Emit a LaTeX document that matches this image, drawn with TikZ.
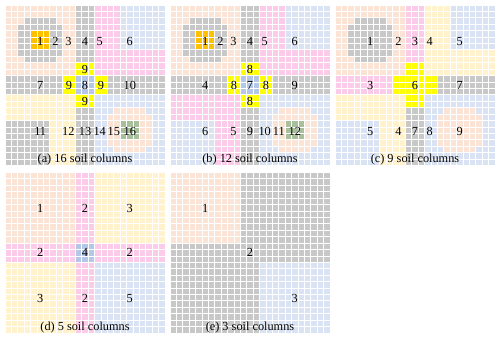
\documentclass[tikz,border=0pt]{standalone}
\usepackage{fontspec}
\setmainfont{Liberation Serif}

\definecolor{pesca}{HTML}{FBE4D5}
\definecolor{grigio}{HTML}{C8C8C8}
\definecolor{arancio}{HTML}{FFC000}
\definecolor{rosa}{HTML}{FCCBE9}
\definecolor{azzurro}{HTML}{DAE3F3}
\definecolor{blu}{HTML}{B4C7E7}
\definecolor{giallo}{HTML}{FFFF00}
\definecolor{crema}{HTML}{FFF2CC}
\definecolor{verde}{HTML}{A8BF9C}

% ottagono 7x7 celle con gli spigoli tagliati (colore, angolo in basso a sinistra)
\newcommand{\ottagono}[3]{%
  \fill[#1, shift={(#2,#3)}] (1,0) -- (6,0) -- (6,1) -- (7,1) -- (7,6) -- (6,6)
    -- (6,7) -- (1,7) -- (1,6) -- (0,6) -- (0,1) -- (1,1) -- cycle;}

\begin{document}
\begin{tikzpicture}[x=6.4pt, y=6.42pt, font=\fontsize{12.3}{14}\selectfont]

    % Stile globale per la griglia delle celle
    \tikzset{griglia/.style={white, line width=0.9pt, step=1}}

    \useasboundingbox (0pt,0pt) rectangle (500pt,340pt);

    % (a) 16 colonne di suolo
    \begin{scope}[shift={(5pt,174.5pt)}]
        \fill[pesca] (0,14) rectangle (11,25);
        \ottagono{grigio}{2}{16}
        \fill[arancio] (4,18) rectangle (7,21);
        \fill[grigio] (11,0) rectangle (14,25);
        \fill[rosa] (14,14) rectangle (18,25);
        \fill[rosa] (18,14) rectangle (25,18);
        \fill[azzurro] (18,18) rectangle (25,25);
        \fill[grigio] (0,11) rectangle (25,14);
        \fill[crema] (0,0) rectangle (11,11);
        \fill[grigio] (0,0) rectangle (7,7);
        \fill[azzurro] (14,0) rectangle (25,11);
        \ottagono{pesca}{16}{2}
        \fill[verde] (18,4) rectangle (21,7);
        \fill[blu] (11,11) rectangle (14,14);
        \fill[giallo] (11,14) rectangle (14,16);
        \fill[giallo] (11,9) rectangle (14,11);
        \fill[giallo] (9,11) rectangle (11,14);
        \fill[giallo] (14,11) rectangle (16,14);
        \draw[griglia] (0,0) grid (25,25);

        % Numeri delle colonne
        \node (a1) at (5.5,19.3) {1};
        \node (a2) at (7.9,19.3) {2};
        \node (a3) at (9.9,19.3) {3};
        \node (a4) at (12.5,19.3) {4};
        \node (a5) at (14.8,19.3) {5};
        \node (a6) at (19.5,19.3) {6};
        \node (a7) at (5.5,12.4) {7};
        \node (a9o) at (10,12.4) {9};
        \node (a8) at (12.5,12.4) {8};
        \node (a9e) at (15,12.4) {9};
        \node (a10) at (19.5,12.4) {10};
        \node (a9n) at (12.5,15) {9};
        \node (a9s) at (12.5,9.9) {9};
        \node (a11) at (5.5,5.3) {11};
        \node (a12) at (9.9,5.3) {12};
        \node (a13) at (12.5,5.3) {13};
        \node (a14) at (14.8,5.3) {14};
        \node (a15) at (17,5.3) {15};
        \node (a16) at (19.5,5.3) {16};
        \node (capa) at (12.5,0.9) {(a) 16 soil columns};
    \end{scope}

    % (b) 12 colonne di suolo
    \begin{scope}[shift={(170pt,174.5pt)}]
        \fill[pesca] (0,14) rectangle (11,25);
        \ottagono{grigio}{2}{16}
        \fill[arancio] (4,18) rectangle (7,21);
        \fill[grigio] (11,0) rectangle (14,25);
        \fill[rosa] (14,14) rectangle (18,25);
        \fill[rosa] (18,14) rectangle (25,18);
        \fill[azzurro] (18,18) rectangle (25,25);
        \fill[grigio] (0,11) rectangle (25,14);
        \fill[rosa] (0,0) rectangle (11,11);
        \fill[azzurro] (0,0) rectangle (7,7);
        \fill[azzurro] (14,0) rectangle (25,11);
        \ottagono{pesca}{16}{2}
        \fill[verde] (18,4) rectangle (21,7);
        \fill[blu] (11,11) rectangle (14,14);
        \fill[giallo] (11,14) rectangle (14,16);
        \fill[giallo] (11,9) rectangle (14,11);
        \fill[giallo] (9,11) rectangle (11,14);
        \fill[giallo] (14,11) rectangle (16,14);
        \draw[griglia] (0,0) grid (25,25);

        % Numeri delle colonne
        \node (b1) at (5.5,19.3) {1};
        \node (b2) at (7.9,19.3) {2};
        \node (b3) at (9.9,19.3) {3};
        \node (b4) at (12.5,19.3) {4};
        \node (b5) at (14.8,19.3) {5};
        \node (b6) at (19.5,19.3) {6};
        \node (b4o) at (5.5,12.4) {4};
        \node (b8o) at (10,12.4) {8};
        \node (b7) at (12.5,12.4) {7};
        \node (b8e) at (15,12.4) {8};
        \node (b9e) at (19.5,12.4) {9};
        \node (b8n) at (12.5,15) {8};
        \node (b8s) at (12.5,9.9) {8};
        \node (b6s) at (5.5,5.3) {6};
        \node (b5s) at (9.9,5.3) {5};
        \node (b9s) at (12.5,5.3) {9};
        \node (b10) at (14.8,5.3) {10};
        \node (b11) at (17,5.3) {11};
        \node (b12) at (19.5,5.3) {12};
        \node (capb) at (12.5,0.9) {(b) 12 soil columns};
    \end{scope}

    % (c) 9 colonne di suolo
    \begin{scope}[shift={(335pt,174.5pt)}]
        \fill[pesca] (0,14) rectangle (11,25);
        \ottagono{grigio}{2}{16}
        \fill[rosa] (11,14) rectangle (14,25);
        \fill[crema] (14,14) rectangle (18,25);
        \fill[crema] (18,14) rectangle (25,18);
        \fill[azzurro] (18,18) rectangle (25,25);
        \fill[rosa] (0,11) rectangle (11,14);
        \fill[grigio] (14,11) rectangle (25,14);
        \fill[crema] (0,0) rectangle (11,11);
        \fill[azzurro] (0,0) rectangle (7,7);
        \fill[grigio] (11,0) rectangle (14,11);
        \fill[azzurro] (14,0) rectangle (25,11);
        \ottagono{pesca}{16}{2}
        \fill[giallo] (11,9) rectangle (14,16);
        \fill[giallo] (9,11) rectangle (16,14);
        \draw[griglia] (0,0) grid (25,25);

        % Numeri delle colonne
        \node (c1) at (5.5,19.3) {1};
        \node (c2) at (9.9,19.3) {2};
        \node (c3) at (12.5,19.3) {3};
        \node (c4) at (14.8,19.3) {4};
        \node (c5) at (19.5,19.3) {5};
        \node (c3o) at (5.5,12.4) {3};
        \node (c6) at (12.5,12.4) {6};
        \node (c7e) at (19.5,12.4) {7};
        \node (c5s) at (5.5,5.3) {5};
        \node (c4s) at (9.9,5.3) {4};
        \node (c7s) at (12.5,5.3) {7};
        \node (c8) at (14.8,5.3) {8};
        \node (c9) at (19.5,5.3) {9};
        \node (capc) at (12.5,0.9) {(c) 9 soil columns};
    \end{scope}

    % (d) 5 colonne di suolo
    \begin{scope}[shift={(5pt,7pt)}]
        \fill[pesca] (0,14) rectangle (11,25);
        \fill[crema] (14,14) rectangle (25,25);
        \fill[crema] (0,0) rectangle (11,11);
        \fill[azzurro] (14,0) rectangle (25,11);
        \fill[rosa] (11,0) rectangle (14,25);
        \fill[rosa] (0,11) rectangle (25,14);
        \fill[blu] (11,11) rectangle (14,14);
        \draw[griglia] (0,0) grid (25,25);

        % Numeri delle colonne
        \node (d1) at (5.5,19.4) {1};
        \node (d2n) at (12.5,19.4) {2};
        \node (d3e) at (19.5,19.4) {3};
        \node (d2o) at (5.5,12.5) {2};
        \node (d4) at (12.5,12.5) {4};
        \node (d2e) at (19.5,12.5) {2};
        \node (d3s) at (5.5,5.4) {3};
        \node (d2s) at (12.5,5.4) {2};
        \node (d5) at (19.5,5.4) {5};
        \node (capd) at (12.5,0.9) {(d) 5 soil columns};
    \end{scope}

    % (e) 3 colonne di suolo
    \begin{scope}[shift={(170pt,7pt)}]
        \fill[grigio] (0,0) rectangle (25,25);
        \fill[pesca] (0,14) rectangle (11,25);
        \fill[azzurro] (14,0) rectangle (25,11);
        \draw[griglia] (0,0) grid (25,25);

        % Numeri delle colonne
        \node (e1) at (5.5,19.4) {1};
        \node (e2) at (12.5,12.5) {2};
        \node (e3) at (19.5,5.4) {3};
        \node (cape) at (12.5,0.9) {(e) 3 soil columns};
    \end{scope}

\end{tikzpicture}
\end{document}
